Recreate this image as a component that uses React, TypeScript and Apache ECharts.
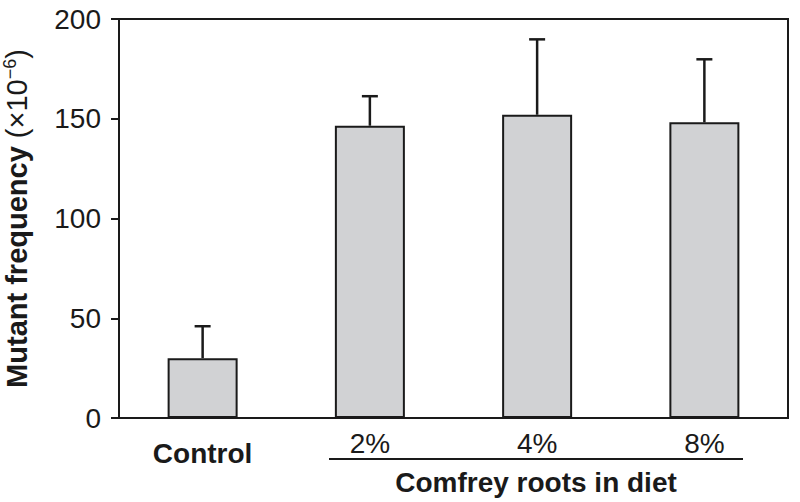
import React, { useEffect, useRef } from "react";
import * as echarts from "echarts";

const categories = ["Control", "2%", "4%", "8%"];
const meanValues = [30, 146.5, 152, 148.2];
const upperErrors = [46, 161.3, 189.8, 179.8];
const yTicks = [0, 50, 100, 150, 200];

const FONT = "'Liberation Sans', Arial, Helvetica, sans-serif";
const INK = "#1a1a1a";

export default function App() {
  const ref = useRef<HTMLDivElement>(null);
  useEffect(() => {
    if (!ref.current) return;
    const chart = echarts.init(ref.current, null, { renderer: "svg" });
    chart.setOption({
      animation: false,
      backgroundColor: "#ffffff",
      textStyle: { fontFamily: FONT },
      grid: {
        left: 119,
        right: 12,
        top: 19,
        bottom: 84,
        outerBoundsMode: "none",
        containLabel: false,
        show: true,
        borderColor: INK,
        borderWidth: 2,
        backgroundColor: "transparent",
      },
      xAxis: {
        type: "category",
        data: categories,
        axisLine: { lineStyle: { color: INK, width: 2 } },
        axisTick: {
          alignWithLabel: false,
          length: 10,
          lineStyle: { color: INK, width: 2 },
        },
        axisLabel: {
          interval: 0,
          margin: 11,
          formatter: (v: string) => (v === "Control" ? "{c|" + v + "}" : "{p|" + v + "}"),
          rich: {
            c: {
              fontFamily: FONT,
              fontSize: 28,
              fontWeight: "bold",
              color: INK,
              padding: [10, 0, 0, 0],
            },
            p: {
              fontFamily: FONT,
              fontSize: 28,
              color: INK,
            },
          },
        },
      },
      yAxis: {
        type: "value",
        min: yTicks[0],
        max: yTicks[yTicks.length - 1],
        interval: 50,
        splitLine: { show: false },
        axisLine: { show: true, lineStyle: { color: INK, width: 2 } },
        axisTick: { show: true, length: 8, lineStyle: { color: INK, width: 2 } },
        axisLabel: {
          margin: 18,
          fontFamily: FONT,
          fontSize: 28,
          color: INK,
        },
        name: "{a|Mutant frequency }{b|(×10}{s|−6}{b|)}",
        nameLocation: "middle",
        nameRotate: 90,
        nameGap: 86,
        nameTextStyle: {
          rich: {
            a: {
              fontFamily: FONT,
              fontSize: 29,
              fontWeight: "bold",
              color: INK,
            },
            b: {
              fontFamily: FONT,
              fontSize: 29,
              color: INK,
            },
            s: {
              fontFamily: FONT,
              fontSize: 18,
              color: INK,
              padding: [0, 0, 14, 0],
            },
          },
        },
      },
      series: [
        {
          type: "bar",
          data: meanValues,
          barWidth: 70,
          itemStyle: {
            color: "#d1d2d4",
            borderColor: INK,
            borderWidth: 2,
          },
          z: 2,
        },
        {
          type: "custom",
          z: 3,
          data: categories.map((_, i) => [i, meanValues[i], upperErrors[i]]),
          renderItem: (params: any, api: any) => {
            const idx = api.value(0);
            const low = api.coord([idx, api.value(1)]);
            const high = api.coord([idx, api.value(2)]);
            const half = 8;
            const style = { stroke: INK, lineWidth: 2.5 };
            return {
              type: "group",
              children: [
                { type: "line", shape: { x1: low[0], y1: low[1], x2: high[0], y2: high[1] }, style },
                { type: "line", shape: { x1: high[0] - half, y1: high[1], x2: high[0] + half, y2: high[1] }, style },
              ],
            };
          },
        },
      ],
      graphic: [
        {
          type: "line",
          shape: { x1: 329, y1: 459, x2: 743, y2: 459 },
          style: { stroke: INK, lineWidth: 2 },
        },
        {
          type: "text",
          x: 536,
          y: 482,
          style: {
            text: "Comfrey roots in diet",
            fontFamily: FONT,
            fontSize: 28,
            fontWeight: "bold",
            fill: INK,
            align: "center",
            verticalAlign: "middle",
          },
        },
      ],
    });
    return () => chart.dispose();
  }, []);
  return (
    <div
      ref={ref}
      style={{ position: "absolute", left: 0, top: 0, width: 800, height: 502 }}
    />
  );
}
